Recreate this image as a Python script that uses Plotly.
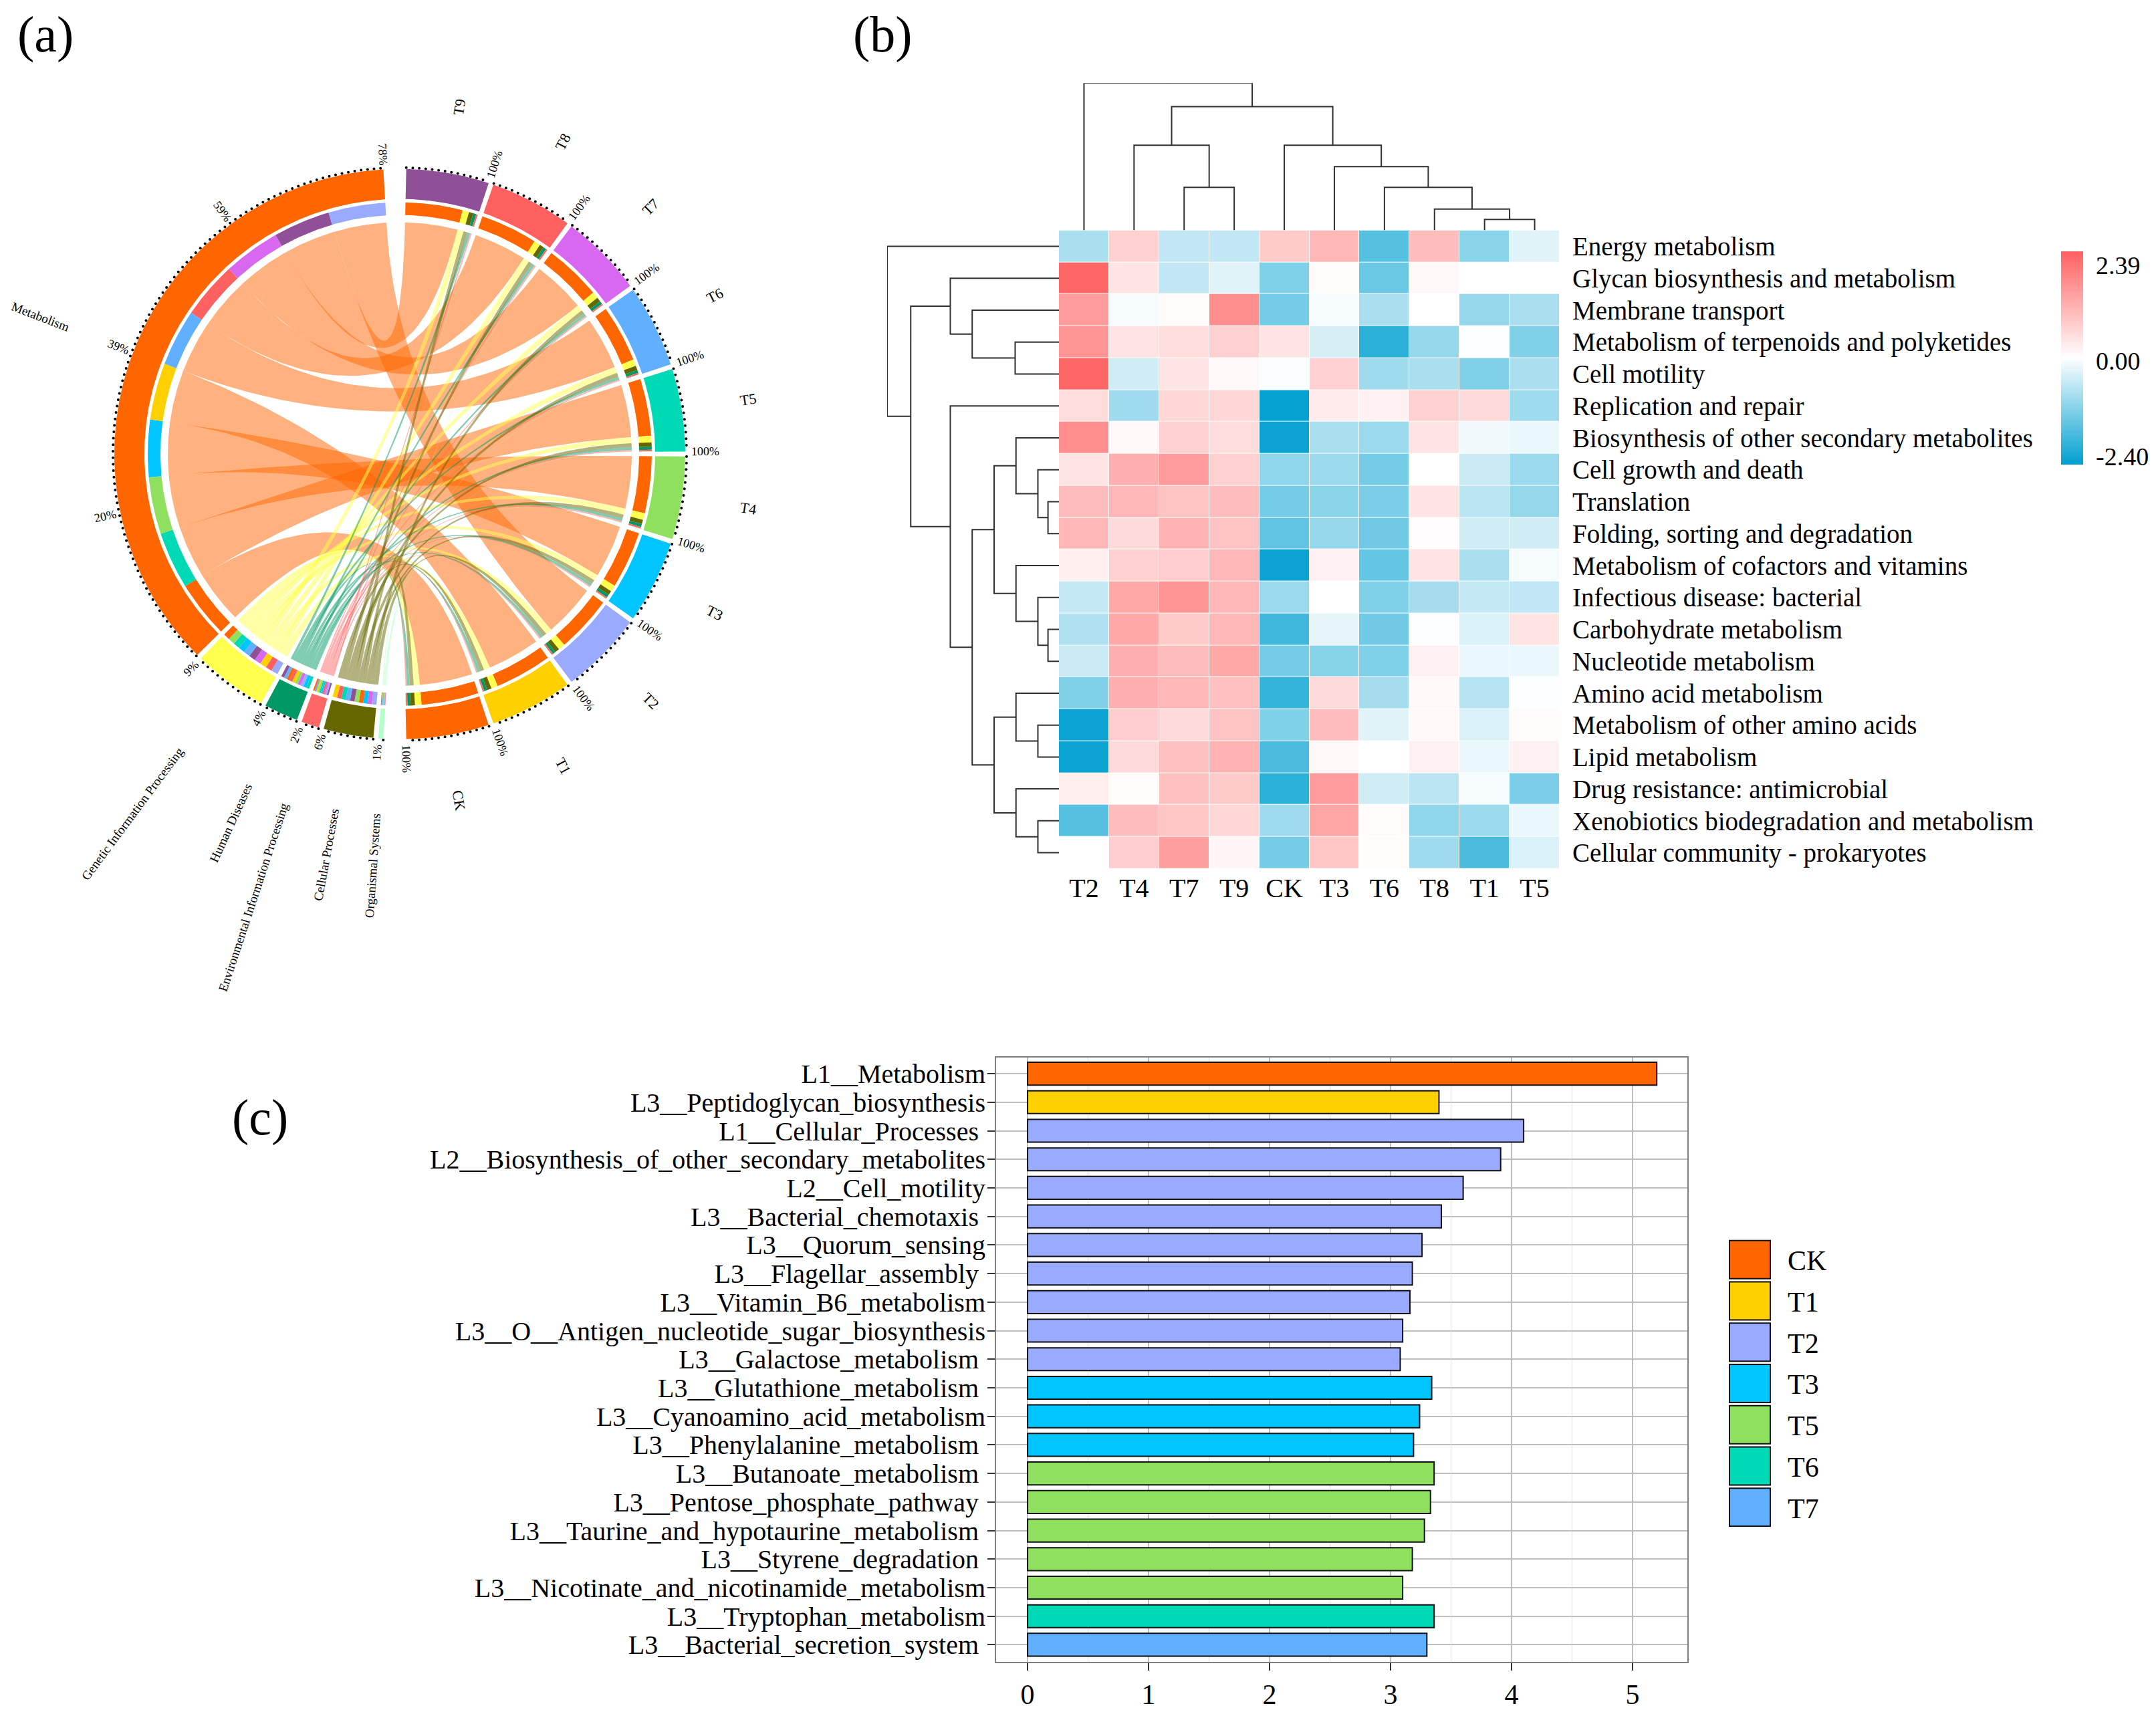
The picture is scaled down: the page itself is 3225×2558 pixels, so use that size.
import math
import plotly.graph_objects as go

W, H = 3225, 2558
FONT = "Liberation Serif"

# ---------- chord data (percent of each treatment) ----------
treatments = ["CK", "T1", "T2", "T3", "T4", "T5", "T6", "T7", "T8", "T9"]
treatment_colors = ["#FF6600", "#FFD000", "#99AAFF", "#00C5FF", "#90E060", "#00D9B5", "#60B0FF", "#D868F0", "#FF6060", "#8F5097"]
pathways = ["Organismal Systems", "Cellular Processes", "Environmental Information Processing",
            "Human Diseases", "Genetic Information Processing", "Metabolism"]
pathway_colors = ["#B3FFCC", "#666600", "#FF6666", "#009966", "#FFFF4D", "#FF6600"]
organismal = [0.6, 0.6, 0.6, 0.6, 0.6, 0.6, 0.6, 0.6, 0.6, 0.6]
cellular = [6.0, 6.1, 6.2, 5.9, 6.0, 6.0, 6.1, 6.0, 5.9, 6.1]
environmental = [2.1, 2.1, 2.2, 2.1, 2.2, 2.2, 2.2, 2.2, 2.2, 2.2]
human = [4.1, 4.2, 4.0, 4.2, 4.1, 4.1, 4.1, 4.1, 4.2, 4.1]
genetic = [8.9, 9.0, 9.2, 8.8, 9.0, 8.9, 9.1, 9.1, 8.8, 9.0]
metabolism = [78.3, 78.0, 77.8, 78.4, 78.1, 78.2, 77.9, 78.0, 78.3, 78.0]
chord_rows = [organismal, cellular, environmental, human, genetic, metabolism]
# clockwise order of the little sub-arcs inside each pathway sector
order_organismal = ["T8", "T7", "T2", "T6", "T4", "T3", "T5", "T1", "CK", "T9"]
order_cellular = ["T2", "T7", "T3", "CK", "T4", "T9", "T6", "T5", "T8", "T1"]
order_environmental = ["T9", "T2", "T7", "T8", "T3", "T5", "T4", "T1", "T6", "CK"]
order_human = ["T5", "T3", "T2", "T7", "T4", "T1", "T8", "CK", "T6", "T9"]
order_genetic = ["T2", "T8", "T1", "T7", "T9", "T6", "T3", "T5", "T4", "CK"]
order_metabolism = ["CK", "T5", "T4", "T3", "T1", "T6", "T8", "T7", "T9", "T2"]
chord_orders = [order_organismal, order_cellular, order_environmental, order_human, order_genetic, order_metabolism]

# ---------- heatmap data ----------
heat_cols = ["T2", "T4", "T7", "T9", "CK", "T3", "T6", "T8", "T1", "T5"]
heat_rows = ["Energy metabolism", "Glycan biosynthesis and metabolism", "Membrane transport",
             "Metabolism of terpenoids and polyketides", "Cell motility", "Replication and repair",
             "Biosynthesis of other secondary metabolites", "Cell growth and death", "Translation",
             "Folding, sorting and degradation", "Metabolism of cofactors and vitamins",
             "Infectious disease: bacterial", "Carbohydrate metabolism", "Nucleotide metabolism",
             "Amino acid metabolism", "Metabolism of other amino acids", "Lipid metabolism",
             "Drug resistance: antimicrobial", "Xenobiotics biodegradation and metabolism",
             "Cellular community - prokaryotes"]
heat_values = [
    [-0.8, 0.7, -0.6, -0.6, 0.8, 1.1, -1.6, 1.0, -1.1, -0.3],
    [2.3, 0.4, -0.6, -0.3, -1.2, 0.05, -1.4, 0.1, 0, 0],
    [1.5, -0.1, 0.05, 1.7, -1.3, -0.1, -0.8, 0, -1.0, -0.8],
    [1.6, 0.4, 0.5, 0.7, 0.4, -0.4, -2.0, -1.0, -0.03, -1.2],
    [2.3, -0.45, 0.4, 0.1, -0.05, 0.7, -0.9, -0.8, -1.2, -0.8],
    [0.5, -0.9, 0.6, 0.6, -2.35, 0.3, 0.2, 0.7, 0.55, -0.9],
    [1.7, 0.1, 0.7, 0.5, -2.3, -0.8, -0.95, 0.4, -0.15, -0.2],
    [0.4, 1.2, 1.5, 0.7, -1.05, -0.95, -1.3, 0, -0.5, -0.95],
    [1.0, 1.1, 0.9, 1.0, -1.3, -1.1, -1.25, 0.4, -0.65, -1.0],
    [1.1, 0.55, 1.15, 0.9, -1.5, -1.0, -1.35, 0.03, -0.45, -0.45],
    [0.25, 0.7, 0.75, 1.1, -2.3, 0.2, -1.45, 0.4, -0.8, -0.1],
    [-0.55, 1.3, 1.6, 1.1, -0.95, 0.0, -1.2, -0.85, -0.55, -0.6],
    [-0.75, 1.3, 0.8, 1.1, -1.8, -0.25, -1.35, -0.02, -0.35, 0.4],
    [-0.5, 1.2, 1.0, 1.3, -1.3, -1.15, -1.2, 0.2, -0.2, -0.2],
    [-1.2, 1.2, 1.1, 0.95, -1.9, 0.55, -0.85, 0.1, -0.7, -0.03],
    [-2.3, 0.75, 0.55, 0.9, -1.2, 1.0, -0.3, 0.08, -0.35, 0.05],
    [-2.3, 0.55, 0.95, 1.15, -1.7, 0.1, 0, 0.2, -0.2, 0.2],
    [0.25, 0.05, 0.95, 0.8, -2.0, 1.5, -0.45, -0.65, -0.1, -1.25],
    [-1.6, 1.0, 0.85, 0.6, -0.9, 1.35, 0.05, -1.05, -0.95, -0.2],
    [0, 0.75, 1.45, 0.15, -1.3, 0.85, 0.05, -0.9, -1.7, -0.35],
]
# dendrograms as (height, left, right), leaves are positions in the heatmap
col_tree = (270, 0, (227, (156, 1, (79, 2, 3)), (156, 4, (117, 5, (79, 6, (39, 7, (20, 8, 9)))))))
row_tree = (204, 0, (176,
    (129, 1, (103, 2, (52, 3, 4))),
    (129, 5, (103,
        (77, (51, 6, (25, 7, (13, 8, 9))), (51, 10, (25, 11, (13, 12, 13)))),
        (77, (51, 14, (25, 15, 16)), (51, 17, (25, 18, 19)))))))

# ---------- bar data ----------
bar_labels = ["L1__Metabolism", "L3__Peptidoglycan_biosynthesis", "L1__Cellular_Processes ",
              "L2__Biosynthesis_of_other_secondary_metabolites", "L2__Cell_motility", "L3__Bacterial_chemotaxis ",
              "L3__Quorum_sensing", "L3__Flagellar_assembly ", "L3__Vitamin_B6_metabolism",
              "L3__O__Antigen_nucleotide_sugar_biosynthesis", "L3__Galactose_metabolism ",
              "L3__Glutathione_metabolism ", "L3__Cyanoamino_acid_metabolism", "L3__Phenylalanine_metabolism ",
              "L3__Butanoate_metabolism ", "L3__Pentose_phosphate_pathway ", "L3__Taurine_and_hypotaurine_metabolism ",
              "L3__Styrene_degradation ", "L3__Nicotinate_and_nicotinamide_metabolism", "L3__Tryptophan_metabolism",
              "L3__Bacterial_secretion_system "]
bar_values = [5.2, 3.4, 4.1, 3.91, 3.6, 3.42, 3.26, 3.18, 3.16, 3.1, 3.08, 3.34, 3.24, 3.19, 3.36, 3.33, 3.28, 3.18, 3.1, 3.36, 3.3]
bar_groups = ["CK", "T1"] + ["T2"] * 9 + ["T3"] * 3 + ["T5"] * 5 + ["T6", "T7"]
legend_groups = ["CK", "T1", "T2", "T3", "T5", "T6", "T7"]
legend_colors = ["#FF6600", "#FFD000", "#99AAFF", "#00C5FF", "#90E060", "#00D9B5", "#60B0FF"]

fig = go.Figure()


def dom_x(a, b):
    return [a / W, b / W]


def dom_y(top, bottom):
    return [1 - bottom / H, 1 - top / H]


# ================= (a) chord =================
CX, CY, SPAN, SPAN_DOWN = 598, 680, 598, 860
R_DOT, R_OUT0, R_OUT1, R_IN0, R_IN1, R_RIB = 429, 382, 427, 358, 377, 347
DEG = 0.1684
GAP = 1.0
RIGHT_START = 1.3
LEFT_START = 183.3
c = dict(xaxis="x", yaxis="y")


def pt(theta, r):
    t = math.radians(theta)
    return r * math.sin(t), r * math.cos(t)


def arc(t0, t1, r):
    n = max(2, int(abs(t1 - t0) / 0.5) + 1)
    return [pt(t0 + (t1 - t0) * i / n, r) for i in range(n + 1)]


def add_poly(points, color):
    fig.add_trace(go.Scatter(x=[p[0] for p in points] + [points[0][0]], y=[p[1] for p in points] + [points[0][1]],
                             mode="lines", line=dict(width=0), fill="toself", fillcolor=color,
                             hoverinfo="skip", showlegend=False, **c))


def band(t0, t1, r0, r1, color):
    add_poly(arc(t0, t1, r1) + arc(t1, t0, r0), color)


def bez(a, b):
    return [((1 - k / 40) ** 2 * a[0] + (k / 40) ** 2 * b[0], (1 - k / 40) ** 2 * a[1] + (k / 40) ** 2 * b[1]) for k in range(41)]


def rgba(hexcol, alpha):
    return f"rgba({int(hexcol[1:3], 16)},{int(hexcol[3:5], 16)},{int(hexcol[5:7], 16)},{alpha})"


annos = []


def text_at(theta, r, s, size, angle_fn):
    x, y = pt(theta, r)
    annos.append(dict(x=x, y=y, xref="x", yref="y", text=s, showarrow=False, textangle=angle_fn(theta),
                      font=dict(family=FONT, size=size, color="black"), xanchor="center", yanchor="middle"))


def radial_out(t):
    return t - 90


def radial_in(t):
    v = t + 90
    return v - 360 if v > 180 else v


def dots(t0, t1):
    n = int((t1 - t0) / (7.7 * DEG) + 1e-6)
    return [pt(t0 + i * 7.7 * DEG, R_DOT) for i in range(n + 1)]


dot_pts = []
# right-hand sectors, clockwise T9 ... T1, CK
right_order = treatments[1:][::-1] + ["CK"]
right_pos = {}
t = RIGHT_START
for name in right_order:
    j = treatments.index(name)
    total = sum(row[j] for row in chord_rows)
    t_end = t + total * DEG
    band(t, t_end, R_OUT0, R_OUT1, treatment_colors[j])
    dot_pts += dots(t, t_end)
    text_at(t_end, 457, f"{round(total)}%", 18, radial_out)
    text_at((t + t_end) / 2, 527, name, 22, radial_out)
    right_pos[name] = {}
    u = t
    for i in [5, 4, 1, 3, 2, 0]:  # Metabolism, Genetic, Cellular, Human, Environmental, Organismal
        v = u + chord_rows[i][j] * DEG
        band(u, v, R_IN0, R_IN1, pathway_colors[i])
        right_pos[name][i] = (u, v)
        u = v
    t = t_end + GAP

# left-hand sectors, clockwise from the bottom
ribbons = []
t = LEFT_START
label_half = [80, 72, 161, 70, 133, 38]
for i, name in enumerate(pathways):
    total = sum(chord_rows[i])
    t_end = t + total * DEG
    band(t, t_end, R_OUT0, R_OUT1, pathway_colors[i])
    dot_pts += dots(t, t_end)
    pct = total / 10
    if i == 5:
        for k in (1, 2, 3, 4):
            text_at(t + (t_end - t) * k / 4, 450, f"{round(pct * k / 4)}%", 18, radial_in)
    else:
        text_at(t_end, 448, f"{max(1, round(pct))}%", 18, radial_in)
    text_at((t + t_end) / 2, 538 + label_half[i], name, 19, radial_in)
    u = t
    for tname in chord_orders[i]:
        j = treatments.index(tname)
        v = u + chord_rows[i][j] * DEG
        band(u, v, R_IN0, R_IN1, treatment_colors[j])
        ribbons.append((i, j, u, v, right_pos[tname][i]))
        u = v
    t = t_end + GAP

# links: largest pathway first so the small ones sit on top
for i in [5, 4, 3, 2, 1, 0]:
    for (ii, j, a0, a1, (b0, b1)) in ribbons:
        if ii != i:
            continue
        pts = arc(a0, a1, R_RIB) + bez(pt(a1, R_RIB), pt(b0, R_RIB)) + arc(b0, b1, R_RIB) + bez(pt(b1, R_RIB), pt(a0, R_RIB))
        add_poly(pts, rgba(pathway_colors[i], 0.5))

fig.add_trace(go.Scatter(x=[p[0] for p in dot_pts], y=[p[1] for p in dot_pts], mode="markers",
                         marker=dict(color="black", size=4), hoverinfo="skip", showlegend=False, **c))


# ================= (b) heatmap =================
HL, HR, HT, HB = 1584, 2333, 345, 1301
fig.add_trace(go.Heatmap(z=heat_values, x=heat_cols, y=heat_rows, xaxis="x2", yaxis="y2", zmin=-2.4, zmax=2.39,
                         xgap=1, ygap=1, hoverinfo="skip",
                         colorscale=[[0, "#00A0D0"], [0.5, "#FFFFFF"], [1, "#FF6060"]],
                         colorbar=dict(x=3083 / W, xanchor="left", xref="paper", xpad=0, ypad=0,
                                       y=1 - 376 / H, yanchor="top", yref="paper",
                                       len=319 / H, lenmode="fraction", thickness=33, thicknessmode="pixels",
                                       outlinewidth=0, tickmode="array", tickvals=[2.075, -0.073, -2.22],
                                       ticktext=["2.39", "0.00", "-2.40"], ticks="outside", ticklen=12,
                                       tickcolor="rgba(0,0,0,0)", tickwidth=1,
                                       tickfont=dict(family=FONT, size=38, color="black"))))


def walk(node, segs):
    """Return (position, height) of a tree node and collect its line segments."""
    if isinstance(node, int):
        return node, 0
    h, a, b = node
    pa, ha = walk(a, segs)
    pb, hb = walk(b, segs)
    segs.append(((pa, ha), (pa, h), (pb, h), (pb, hb)))
    return (pa + pb) / 2, h


def tree_xy(tree, swap):
    segs = []
    p, h = walk(tree, segs)
    segs.append(((p, h), (p, h + 3)))
    xs, ys = [], []
    for s in segs:
        for pos, hh in s:
            xs.append(hh if swap else pos)
            ys.append(pos if swap else hh)
        xs.append(None)
        ys.append(None)
    return xs, ys


xs, ys = tree_xy(col_tree, False)
fig.add_trace(go.Scatter(x=xs, y=ys, mode="lines", line=dict(color="#303030", width=2), xaxis="x3", yaxis="y3",
                         hoverinfo="skip", showlegend=False, cliponaxis=False))
xs, ys = tree_xy(row_tree, True)
fig.add_trace(go.Scatter(x=xs, y=ys, mode="lines", line=dict(color="#303030", width=2), xaxis="x4", yaxis="y4",
                         hoverinfo="skip", showlegend=False, cliponaxis=False))

# ================= (c) bars =================
BL, BR, BT, BB = 1490, 2524, 1584, 2489
group_color = dict(zip(legend_groups, legend_colors))
fig.add_trace(go.Bar(x=bar_values, y=bar_labels, orientation="h", width=0.8, xaxis="x5", yaxis="y5",
                     marker=dict(color=[group_color[g] for g in bar_groups], line=dict(color="#111111", width=2)),
                     hoverinfo="skip", showlegend=False))

shapes = []
for k, (g, col) in enumerate(zip(legend_groups, legend_colors)):
    top = 1858 + k * 61.8
    shapes.append(dict(type="rect", xref="paper", yref="paper", x0=2587 / W, x1=2648 / W, y0=1 - (top + 57) / H, y1=1 - top / H,
                       fillcolor=col, line=dict(color="#111111", width=2)))
    annos.append(dict(xref="paper", yref="paper", x=2672 / W, y=1 - (top + 30.5) / H, text=g, showarrow=False, xanchor="left",
                      yanchor="middle", font=dict(family=FONT, size=42, color="black")))

for s, px, py in [("(a)", 68, 52), ("(b)", 1320, 52), ("(c)", 389, 1673)]:
    annos.append(dict(xref="paper", yref="paper", x=px / W, y=1 - py / H, text=s, showarrow=False, xanchor="center",
                      yanchor="middle", font=dict(family=FONT, size=76, color="black")))

hidden = dict(visible=False, showgrid=False, zeroline=False)
tickf = dict(family=FONT, size=40, color="black")
fig.update_layout(
    width=W, height=H, autosize=False, margin=dict(l=0, r=0, t=0, b=0), paper_bgcolor="white", plot_bgcolor="white",
    showlegend=False, shapes=shapes, annotations=annos, font=dict(family=FONT), bargap=0.2,
    xaxis=dict(domain=dom_x(CX - SPAN, CX + SPAN), range=[-SPAN, SPAN], **hidden),
    yaxis=dict(domain=dom_y(CY - SPAN, CY + SPAN_DOWN), range=[-SPAN_DOWN, SPAN], **hidden),
    xaxis2=dict(domain=dom_x(HL, HR), anchor="y2", side="bottom", tickfont=tickf, showgrid=False, zeroline=False,
                ticks="", showline=False, ticklabelstandoff=2),
    yaxis2=dict(domain=dom_y(HT, HB), anchor="x2", side="right", autorange="reversed", tickfont=dict(family=FONT, size=39, color="black"),
                showgrid=False, zeroline=False, ticks="", showline=False, ticklabelstandoff=18, tickmode="linear", dtick=1),
    xaxis3=dict(domain=dom_x(HL, HR), anchor="y3", range=[-0.5, 9.5], **hidden),
    yaxis3=dict(domain=dom_y(124.5, HT), anchor="x3", range=[0, 270], **hidden),
    xaxis4=dict(domain=dom_x(1327, HL), anchor="y4", range=[204, 0], **hidden),
    yaxis4=dict(domain=dom_y(HT, HB), anchor="x4", range=[19.5, -0.5], **hidden),
    xaxis5=dict(domain=dom_x(BL, BR), anchor="y5", range=[-0.26, 5.453], tickvals=[0, 1, 2, 3, 4, 5],
                tickfont=dict(family=FONT, size=42, color="black"),
                showgrid=True, gridcolor="#BEBEBE", gridwidth=2, zeroline=False, ticks="outside", ticklen=11, tickwidth=2,
                tickcolor="#333333", showline=True, linecolor="#7F7F7F", linewidth=2, mirror=True,
                minor=dict(tickvals=[0.5, 1.5, 2.5, 3.5, 4.5], showgrid=True, gridcolor="#E0E0E0", gridwidth=1, ticks="")),
    yaxis5=dict(domain=dom_y(BT, BB), anchor="x5", type="category", categoryorder="array", categoryarray=bar_labels,
                range=[20.6, -0.56], tickmode="linear", dtick=1, tickfont=tickf, showgrid=True, gridcolor="#BEBEBE",
                gridwidth=2, zeroline=False, ticks="outside", ticklen=11, tickwidth=2, tickcolor="#333333", showline=True,
                linecolor="#7F7F7F", linewidth=2, mirror=True, ticklabelstandoff=-5),
)
fig.write_html("out.html", post_script="document.body.style.margin='0';", config=dict(displayModeBar=False))
